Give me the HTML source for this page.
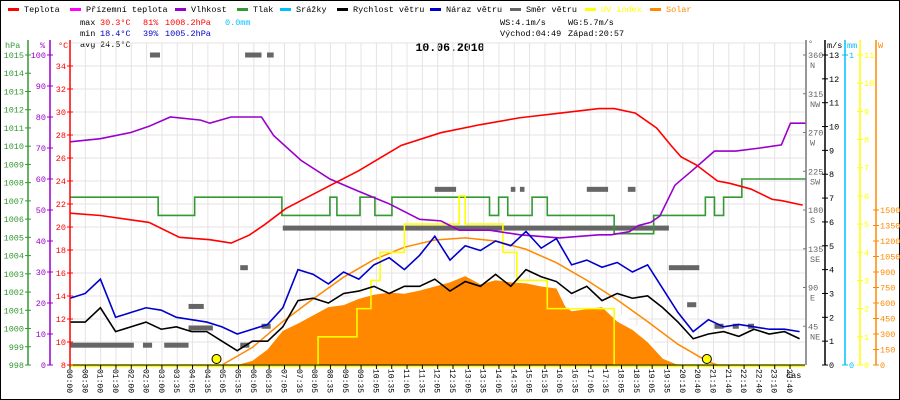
<!DOCTYPE html>
<html><head><meta charset="utf-8"><style>
html,body{margin:0;padding:0;background:#fff}
svg{display:block;font-family:"Liberation Mono",monospace}
</style></head><body>
<svg id="c" width="900" height="400" viewBox="0 0 900 400" xmlns="http://www.w3.org/2000/svg">
<rect x="0.5" y="0.5" width="899" height="399" fill="#fff" stroke="#000"/>
<g id="legend" font-size="8.5"></g>
<g font-size="8.5">
<text x="80" y="25">max</text><text x="100" y="25" fill="#f00">30.3°C</text><text x="143" y="25" fill="#f00">81%</text><text x="165" y="25" fill="#f00">1008.2hPa</text><text x="225" y="25" fill="#00bfff">0.0mm</text>
<text x="80" y="36">min</text><text x="100" y="36" fill="#00c">18.4°C</text><text x="143" y="36" fill="#00c">39%</text><text x="165" y="36" fill="#00c">1005.2hPa</text>
<text x="80" y="47">avg</text><text x="100" y="47">24.5°C</text>
<text x="500" y="25">WS:4.1m/s</text><text x="568" y="25">WG:5.7m/s</text>
<text x="500" y="36">Východ:04:49</text><text x="568" y="36">Západ:20:57</text>
</g>
<text x="450" y="51" font-size="11.5" font-weight="bold" text-anchor="middle">10.06.2010</text>
<g id="grid"></g>
<g id="marks"></g>
<g id="axes" font-size="8.5"></g>
</svg>
<script>
const timeLabels=["00:00","00:30","01:00","01:30","02:00","02:30","03:00","03:35","04:05","04:35","05:05","05:35","06:05","06:35","07:05","07:35","08:05","08:35","09:05","09:35","10:05","10:35","11:05","11:35","12:05","12:35","13:05","13:35","14:05","14:35","15:05","15:35","16:05","16:35","17:05","17:35","18:05","18:35","19:05","19:35","20:10","20:40","21:10","21:40","22:10","22:40","23:10","23:40"];
const tempT=[0,1,2.6,3.6,4.6,5.3,5.9,6.4,7.1,7.6,8.55,9.5,10.9,12.2,13.5,14.8,16.1,17.4,17.9,18.6,19.3,19.8,20.1,20.6,21.3,21.7,22.4,23.1,23.4,24.1];
const tempV=[21.2,21.0,20.4,19.1,18.9,18.6,19.3,20.2,21.6,22.3,23.6,24.9,27.1,28.2,28.9,29.5,29.9,30.3,30.3,29.9,28.6,27.0,26.1,25.4,24.0,23.8,23.3,22.4,22.3,21.9];
const humT=[0,1,2,2.6,3.3,4.3,4.6,5.3,6.3,6.7,7.6,8.55,9.5,10.5,11.5,12.2,12.8,13.8,14.8,16.1,17.4,17.8,18.4,18.7,19.1,19.4,19.6,19.9,20.5,21.2,21.9,22.7,23.4,23.7,24.2];
const humV=[72,73,75,77,80,79,78,80,80,74,66,60,56,52,47,46.5,43.5,43.5,42,41,42,42,43,45,46,48,52,58,63,69,69,70,71,78,78];
const presT=[0,2.9,4.1,6.97,8.55,8.78,9.54,10.03,10.59,13.8,14.1,14.4,15.2,15.7,17.9,19.2,20.9,21.2,21.5,22.1,24.2];
const presV=[1007.2,1006.2,1007.2,1006.2,1007.2,1006.2,1007.2,1006.2,1007.2,1006.2,1007.2,1006.2,1007.2,1006.2,1005.2,1006.2,1007.2,1006.2,1007.2,1008.2,1008.2];
const windV=[1.8,1.8,2.4,1.4,1.6,1.8,1.5,1.6,1.4,1.4,1.0,0.6,1.0,1.0,1.6,2.7,2.8,2.6,3.0,3.1,3.3,3.0,3.3,3.3,3.6,3.1,3.5,3.3,3.8,3.3,4.0,3.7,3.5,3.0,3.3,2.7,3.0,2.8,2.9,2.4,1.8,1.1,1.3,1.4,1.2,1.5,1.3,1.4,1.1];
const gustV=[2.8,3.0,3.6,2.0,2.2,2.4,2.3,2.0,1.9,1.8,1.6,1.3,1.5,1.7,2.4,4.0,3.8,3.4,3.9,3.6,4.2,4.5,4.0,4.6,5.4,4.4,5.0,4.8,5.2,5.0,5.6,4.9,5.3,4.2,4.4,4.1,4.3,3.9,4.2,3.2,2.2,1.4,1.9,1.6,1.7,1.6,1.5,1.5,1.4];
const solarT=[5.5,6,6.5,7,7.5,8,8.5,9,9.5,10,10.5,11,11.5,12,12.5,13,13.5,14,14.5,15,15.5,16,16.3,16.5,17,17.5,18,18.5,19,19.5,20];
const solarV=[0,40,150,330,400,480,560,580,640,680,700,690,720,760,800,860,780,820,800,790,760,740,560,520,540,560,420,340,220,60,0];
const solarMaxV=[30,110,300,420,480,560,620,640,690,720,740,730,760,800,840,900,830,860,840,830,810,790,720,640,650,660,520,420,300,120,20];
const theoT=[5,6,7,8,9,10,11,12,13,14,15,16,17,18,19,20,21,21.3];
const theoV=[0,170,420,640,850,1020,1140,1210,1230,1200,1120,990,820,630,420,200,30,0];
const uvT=[0,8.16,9.44,9.9,10.2,11.0,12.8,13.0,14.24,14.7,15.7,17.9,24];
const uvV=[0,1,2,3,4,5,6,5,4,3,2,0,0];
const dirStart=[0,2.4,3.1,3.9,3.9,5.6,5.6,6.3,2.63,5.76,6.48,7.0,12.0,14.5,14.8,17.0,18.35,19.7,20.3,21.2,21.8,22.3];
const dirEnd=[2.1,2.7,3.9,4.4,4.7,5.9,5.85,6.6,2.96,6.3,6.7,19.7,12.7,14.65,14.95,17.7,18.6,20.7,20.6,21.5,22.0,22.5];
const dirV=[23,23,23,68,43,23,113,45,360,360,360,159,204,204,204,204,204,113,70,45,45,45];
const sunEvents=[4.82,20.95];

const NS="http://www.w3.org/2000/svg";
const X0=70,X1=805,Y0=365;
const xs=h=>X0+h*30.4;
const yT=v=>Y0-(v-8)*11.5;
const yH=v=>Y0-v*3.1;
const yP=v=>Y0-(v-998)*(310/17);
const yW=v=>Y0-v*(310/13);
const yD=v=>Y0-v*(310/360);
const yU=v=>Y0-v*(310/11);
const yS=v=>Y0-v*(155/1500);
function mk(tag,at,parent){const e=document.createElementNS(NS,tag);for(const k in at)e.setAttribute(k,at[k]);parent.appendChild(e);return e;}
const G=document.getElementById('grid'),M=document.getElementById('marks'),A=document.getElementById('axes'),L=document.getElementById('legend');

const legNames=["Teplota","Přízemní teplota","Vlhkost","Tlak","Srážky","Rychlost větru","Náraz větru","Směr větru","UV index","Solar"];
const legColors=["#f00","#f0f","#90c","#393","#00bfff","#000","#00c","#666","#ff0","#f80"];
const legX=[8,70,175,237,280,337,430,510,585,650];
legNames.forEach((n,i)=>{
  const g=mk('g',{},L);
  
  
  mk('rect',{x:legX[i],y:8,width:11,height:3,fill:legColors[i]},g);
  const t=mk('text',{x:legX[i]+16,y:12,fill:(i>=8?legColors[i]:'#000')},g);t.textContent=n;
});

for(let i=0;i<timeLabels.length;i++){const x=X0+i*15.32;mk('line',{x1:x,y1:43,x2:x,y2:Y0,stroke:'#e6e2e2'},G);}
for(let v=8;v<=36;v+=2){mk('line',{x1:X0,y1:yT(v),x2:X1,y2:yT(v),stroke:'#e6e2e2'},G);}

function pathOf(T,V,fy,step){let d='';for(let i=0;i<T.length;i++){const x=xs(T[i]),y=fy(V[i]);if(i===0)d+='M'+x+' '+y;else{if(step)d+=' L'+x+' '+fy(V[i-1]);d+=' L'+x+' '+y;}}return d;}
const halfT=windV.map((_,i)=>i*0.5);

let p=mk('path',{d:pathOf(solarT,solarMaxV,yS)+' L'+xs(solarT[solarT.length-1])+' '+Y0+' L'+xs(solarT[0])+' '+Y0+' Z',fill:'#fff'},M);


p=mk('path',{d:pathOf(solarT,solarV,yS)+' L'+xs(solarT[solarT.length-1])+' '+Y0+' L'+xs(solarT[0])+' '+Y0+' Z',fill:'#f80'},M);


p=mk('path',{d:pathOf(theoT,theoV,yS),fill:'none',stroke:'#f80','stroke-width':1.5},M);


dirV.forEach((v,i)=>{const r=mk('rect',{x:xs(dirStart[i]),y:yD(v)-2.5,width:xs(dirEnd[i])-xs(dirStart[i]),height:5,fill:'#666'},M);
  
  });
const lines=[[presT,presV,yP,'#393',true,'pressure-line'],[uvT,uvV,yU,'#ff0',true,'uv-line'],[humT,humV,yH,'#90c',false,'humidity-line'],[tempT,tempV,yT,'#f00',false,'temperature-line'],[halfT,gustV,yW,'#00c',false,'wind-gust-line'],[halfT,windV,yW,'#000',false,'wind-speed-line']];
lines.forEach(l=>{const e=mk('path',{d:pathOf(l[0],l[1],l[2],l[4]),fill:'none',stroke:l[3],'stroke-width':1.6},M);
  
  });
sunEvents.forEach(h=>{const c=mk('circle',{cx:xs(h),cy:359,r:4.5,fill:'#ff0',stroke:'#000'},M);
  
  });
mk('line',{x1:X0,y1:Y0+1,x2:X1,y2:Y0+1,stroke:'#ff0','stroke-width':2},M);
mk('line',{x1:X0,y1:Y0,x2:X1,y2:Y0,stroke:'#000'},A);

timeLabels.forEach((s,i)=>{const x=X0+i*15.32;mk('line',{x1:x,y1:Y0,x2:x,y2:Y0+4,stroke:'#000'},A);
  const t=mk('text',{x:x-3,y:369,transform:'rotate(90 '+(x-3)+' 369)','font-size':8},A);
  
  
  t.textContent=s;});
let ct=mk('text',{x:786,y:378},A);ct.textContent='čas';

function vaxis(x,col,ticks,fy,side,unit,ux,name){
  const ax=mk('g',{},A);
  
  
  mk('line',{x1:x,y1:40,x2:x,y2:Y0,stroke:col,'stroke-width':1.5},ax);
  ticks.forEach(v=>{const y=fy(v);mk('line',{x1:x-3,y1:y,x2:x+3,y2:y,stroke:col},ax);
    const t=mk('text',{x:side<0?x-4:x+4,y:y+3,fill:col,'text-anchor':side<0?'end':'start'},ax);t.textContent=v;});
  const u=mk('text',{x:ux,y:48,fill:col},ax);u.textContent=unit;
}
const hpaTicks=[998,999,1000,1001,1002,1003,1004,1005,1006,1007,1008,1009,1010,1011,1012,1013,1014,1015];
const humTicks=[0,10,20,30,40,50,60,70,80,90,100];
const tempTicks=[8,10,12,14,16,18,20,22,24,26,28,30,32,34];
const msTicks=[0,1,2,3,4,5,6,7,8,9,10,11,12,13];
const uvTicks=[0,1,2,3,4,5,6,7,8,9,10,11];
const wTicks=[0,150,300,450,600,750,900,1050,1200,1350,1500];
vaxis(28,'#393',hpaTicks,yP,-1,'hPa',5,'pressure-axis');
vaxis(50,'#90c',humTicks,yH,-1,'%',40,'humidity-axis');
vaxis(70,'#f00',tempTicks,yT,-1,'°C',58,'temperature-axis');
vaxis(825,'#000',msTicks,yW,1,'m/s',827,'wind-speed-axis');
vaxis(845,'#00bfff',[0,1],v=>Y0-v*310,1,'mm',847,'rain-axis');
vaxis(860,'#ff0',uvTicks,yU,1,'',863,'uv-axis');
vaxis(876,'#f80',wTicks,yS,1,'W',878,'solar-axis');
const dirTicks=[45,90,135,180,225,270,315,360];
const dirNames=["NE","E","SE","S","SW","W","NW","N"];
const dg=mk('g',{},A);


mk('line',{x1:806,y1:40,x2:806,y2:Y0,stroke:'#777','stroke-width':1.5},dg);
dirTicks.forEach((v,i)=>{const y=yD(v);mk('line',{x1:803,y1:y,x2:806,y2:y,stroke:'#777'},dg);
  let t=mk('text',{x:808,y:y+3,fill:'#666'},dg);t.textContent=v;
  t=mk('text',{x:810,y:y+13,fill:'#666'},dg);t.textContent=dirNames[i];});
let dt=mk('text',{x:808,y:46,fill:'#666'},dg);dt.textContent='°';
</script>
</body></html>
